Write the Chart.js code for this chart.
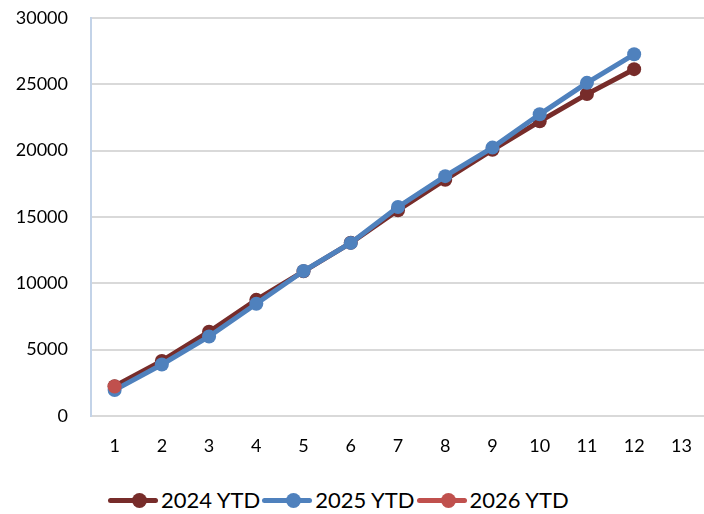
<!DOCTYPE html>
<html>
<head>
<meta charset="utf-8">
<script src="https://cdn.jsdelivr.net/npm/chart.js@4.4.1/dist/chart.umd.min.js"></script>
<style>
  html, body { margin: 0; padding: 0; background: #fff; overflow: hidden; }
  #wrap { position: relative; width: 704px; height: 514px; overflow: hidden; }
  #chart { position: absolute; left: 0; top: -16px; }
  #legend { position: absolute; left: 108px; top: 486px; display: flex; font-family: Lato, "Open Sans", sans-serif; font-size: 22px; color: #000; }
  .item { display: flex; align-items: center; margin-right: 2px; }
  .swatch { position: relative; width: 50px; height: 26px; margin-right: 3px; }
  .swatch .ln { position: absolute; left: 0; right: 0; top: 11px; height: 5px; border-radius: 3px; }
  .swatch .dot { position: absolute; left: 24px; top: 6px; width: 15px; height: 15px; border-radius: 50%; }
</style>
</head>
<body>
<div id="wrap">
  <canvas id="chart" width="712" height="486"></canvas>
  <div id="legend"></div>
</div>
<script>
// ==== Data ====
const months = ["1", "2", "3", "4", "5", "6", "7", "8", "9", "10", "11", "12", "13"];
const ytd2024 = [2250, 4150, 6350, 8750, 10900, 13050, 15500, 17800, 20050, 22200, 24250, 26130];
const ytd2025 = [1950, 3880, 5990, 8460, 10920, 13040, 15750, 18070, 20220, 22730, 25100, 27250];
const ytd2026 = [2220];
const yTicks = [0, 5000, 10000, 15000, 20000, 25000, 30000];

const seriesNames = ["2024 YTD", "2025 YTD", "2026 YTD"];
const seriesColors = ["#772c2a", "#4f81bd", "#c0504d"];

function makeSet(i, data, order) {
  return {
    label: seriesNames[i],
    data: data,
    borderColor: seriesColors[i],
    backgroundColor: seriesColors[i],
    pointBackgroundColor: seriesColors[i],
    pointBorderColor: seriesColors[i],
    borderWidth: 5,
    pointRadius: 7,
    pointBorderWidth: 0,
    tension: 0,
    fill: false,
    order: order
  };
}

const fontTick = { family: "Lato, 'Open Sans', sans-serif", size: 18 };

const chart = new Chart(document.getElementById('chart').getContext('2d'), {
  type: 'line',
  data: {
    labels: months,
    datasets: [
      makeSet(0, ytd2024, 2),
      makeSet(1, ytd2025, 1),
      makeSet(2, ytd2026, 0)
    ]
  },
  options: {
    responsive: false,
    animation: false,
    layout: { padding: { top: 2, left: 0, right: 4, bottom: 0 } },
    plugins: { legend: { display: false }, tooltip: { enabled: false } },
    scales: {
      x: {
        offset: true,
        grid: { display: false, drawTicks: false },
        border: { display: true, color: '#d9d9d9', width: 2 },
        ticks: { color: '#000', font: fontTick, padding: 19, maxRotation: 0 },
        afterFit: s => { s.height = 54; }
      },
      y: {
        min: 0,
        max: 30000,
        afterBuildTicks: s => { s.ticks = yTicks.map(v => ({ value: v })); },
        grid: { color: '#d9d9d9', lineWidth: 2, drawTicks: false },
        border: { display: true, color: '#c3d3e8', width: 2 },
        ticks: { color: '#000', font: fontTick, padding: 23, callback: v => String(v) },
        afterFit: s => { s.width = 91; }
      }
    }
  }
});

// ==== Legend ====
const legendEl = document.getElementById('legend');
seriesNames.forEach((name, i) => {
  const item = document.createElement('div');
  item.className = 'item';
  item.innerHTML = `<div class="swatch"><div class="ln" style="background:${seriesColors[i]}"></div>` +
    `<div class="dot" style="background:${seriesColors[i]}"></div></div><span>${name}</span>`;
  legendEl.appendChild(item);
});
</script>
</body>
</html>
